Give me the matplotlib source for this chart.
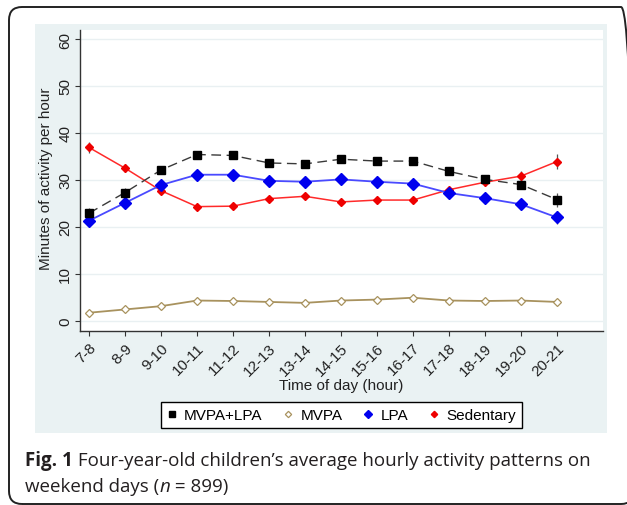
import matplotlib
matplotlib.use('Agg')
import matplotlib.pyplot as plt
from matplotlib.patches import Rectangle, FancyBboxPatch
from matplotlib.lines import Line2D
from matplotlib import font_manager as fm
import numpy as np

# ---------------- data ----------------
hours = ['7-8', '8-9', '9-10', '10-11', '11-12', '12-13', '13-14', '14-15',
         '15-16', '16-17', '17-18', '18-19', '19-20', '20-21']
mvpa_lpa = [22.9, 27.3, 32.1, 35.4, 35.2, 33.6, 33.4, 34.4, 34.0, 34.0, 31.8, 30.1, 29.0, 25.8]
mvpa = [1.7, 2.4, 3.1, 4.3, 4.2, 4.0, 3.8, 4.3, 4.5, 4.9, 4.3, 4.2, 4.3, 4.0]
lpa = [21.3, 25.1, 28.9, 31.1, 31.1, 29.8, 29.6, 30.1, 29.6, 29.2, 27.2, 26.1, 24.8, 22.0]
sedentary = [36.9, 32.5, 27.7, 24.3, 24.4, 26.0, 26.5, 25.3, 25.7, 25.7, 27.9, 29.5, 30.8, 33.9]
# 95% CI half-widths
mvpa_lpa_ci = [1.2, 0.9, 0.7, 0.6, 0.6, 0.6, 0.6, 0.6, 0.6, 0.6, 0.7, 0.8, 1.0, 1.5]
mvpa_ci = [0.3, 0.3, 0.3, 0.3, 0.3, 0.3, 0.3, 0.3, 0.3, 0.3, 0.3, 0.3, 0.3, 0.4]
lpa_ci = [0.9, 0.7, 0.6, 0.5, 0.5, 0.5, 0.5, 0.5, 0.5, 0.5, 0.6, 0.7, 0.8, 1.3]
sedentary_ci = [1.2, 0.9, 0.7, 0.6, 0.6, 0.6, 0.6, 0.6, 0.6, 0.6, 0.7, 0.8, 1.0, 1.6]
yticks = [0, 10, 20, 30, 40, 50, 60]
series_names = ['MVPA+LPA', 'MVPA', 'LPA', 'Sedentary']
xlabel = 'Time of day (hour)'
ylabel = 'Minutes of activity per hour'
caption_bold = 'Fig. 1'
caption_rest = ' Four-year-old children\u2019s average hourly activity patterns on'

# ---------------- fonts ----------------
def has_font(name):
    try:
        fm.findfont(fm.FontProperties(family=name), fallback_to_default=False)
        return True
    except Exception:
        return False

if has_font('Liberation Sans Narrow'):
    CF = 'Liberation Sans Narrow'
    FS = 13
else:
    CF = 'Liberation Sans'
    FS = 11
CAPF = 'Open Sans'

W, H = 627, 506
fig = plt.figure(figsize=(W / 100, H / 100), dpi=100)
fig.patch.set_facecolor('white')

def fx(px):
    return px / W

def fy(py):
    return 1 - py / H

# outer rounded frame (in inches)
frame = FancyBboxPatch((9 / 100, (H - 505) / 100), (634 - 9) / 100, (505 - 8) / 100,
                       boxstyle='round,pad=0,rounding_size=0.13',
                       transform=fig.dpi_scale_trans, facecolor='none',
                       edgecolor='#222222', linewidth=1.4, zorder=-2)
fig.patches.append(frame)

# Stata panel background
fig.patches.append(Rectangle((fx(35), fy(434)), fx(607) - fx(35), fy(25) - fy(434),
                             transform=fig.transFigure, facecolor='#eaf2f3',
                             edgecolor='none', zorder=-1))

ax = fig.add_axes([fx(80), fy(332), fx(603) - fx(80), fy(31) - fy(332)])
ax.set_zorder(1)
ax.set_facecolor('white')
x = np.arange(len(hours))

ax.set_xlim(-0.25, 14.28)
ax.set_ylim(-2.19, 61.92)

for s in ['top', 'right']:
    ax.spines[s].set_visible(False)
for s in ['left', 'bottom']:
    ax.spines[s].set_color('#333333')
    ax.spines[s].set_linewidth(1.0)

ax.set_yticks(yticks)
ax.set_yticklabels([str(v) for v in yticks], rotation=90, va='center',
                   fontsize=FS, family=CF, color='#222222')
ax.yaxis.grid(True, color='#e9f0f2', linewidth=1.0)
ax.set_axisbelow(True)
ax.set_xticks(x)
ax.set_xticklabels(hours, rotation=45, ha='right', va='top', rotation_mode='anchor',
                   fontsize=FS, family=CF, color='#222222')
ax.tick_params(axis='both', length=3.6, width=0.8, color='#333333')
ax.tick_params(axis='y', pad=2)
ax.tick_params(axis='x', pad=3)

ax.set_xlabel(xlabel, fontsize=FS, family=CF, color='#222222', va='center')
ax.xaxis.set_label_coords(0.5, (332 - 386) / 301)
ax.set_ylabel(ylabel, fontsize=FS, family=CF, color='#222222', va='center')
ax.yaxis.set_label_coords((46 - 80) / 523, 0.508)

err_kw = dict(fmt='none', ecolor='#555555', elinewidth=0.9, capsize=0, zorder=2)
ax.errorbar(x, mvpa_lpa, yerr=mvpa_lpa_ci, **err_kw)
ax.errorbar(x, mvpa, yerr=mvpa_ci, **err_kw)
ax.errorbar(x, lpa, yerr=lpa_ci, **err_kw)
ax.errorbar(x, sedentary, yerr=sedentary_ci, **err_kw)

ax.plot(x, mvpa, color='#a8925e', lw=1.3, marker='D', ms=3.8, mfc='white',
        mec='#a8925e', mew=0.9, zorder=3)
ax.plot(x, sedentary, color='#ff2a2a', lw=1.1, marker='D', ms=4.0, mfc='#ee0000',
        mec='#ee0000', zorder=4)
ax.plot(x, lpa, color='#4a4aff', lw=1.3, marker='D', ms=6.0, mfc='#0000ee',
        mec='#0000ee', zorder=5)
ax.plot(x, mvpa_lpa, color='#3a3a3a', lw=1.0, ls=(0, (7, 4)), marker='s', ms=6.2,
        mfc='black', mec='black', zorder=6)

handles = [
    Line2D([], [], ls='none', marker='s', ms=4, mfc='black', mec='black'),
    Line2D([], [], ls='none', marker='D', ms=3.2, mfc='white', mec='#a8925e', mew=0.9),
    Line2D([], [], ls='none', marker='D', ms=4, mfc='#0000ee', mec='#0000ee'),
    Line2D([], [], ls='none', marker='D', ms=3.2, mfc='#ee0000', mec='#ee0000'),
]
leg = fig.legend(handles, series_names, loc='center', bbox_to_anchor=(fx(341.5), fy(416)),
                 ncol=4, frameon=True, fancybox=False, edgecolor='black', framealpha=1,
                 borderpad=0.4, handlelength=0.6, handletextpad=0.5, columnspacing=1.4,
                 prop={'family': CF, 'size': FS})
leg.get_frame().set_linewidth(1.0)
leg.set_zorder(3)

# caption
renderer = fig.canvas.get_renderer()

def draw_pieces(x_px, y_px, pieces, fs):
    xx = x_px
    made = []
    for txt, kw in pieces:
        t = fig.text(fx(xx), fy(y_px), txt, fontsize=fs, ha='left', va='baseline',
                     family=CAPF, color='#231f20', **kw)
        made.append(t)
        xx += t.get_window_extent(renderer).width
    return xx, made

line1 = [(caption_bold, {'weight': 'bold'}), (caption_rest, {})]
line2 = [('weekend days (', {}), ('n', {'style': 'italic'}), (' = 899)', {})]

fs0 = 12
end, tmp = draw_pieces(25, 466, line1, fs0)
for t in tmp:
    t.remove()
fs_cap = fs0 * (588 - 25) / (end - 25)
draw_pieces(25, 466, line1, fs_cap)
draw_pieces(25, 492, line2, fs_cap)

fig.savefig('out.png', dpi=100)
